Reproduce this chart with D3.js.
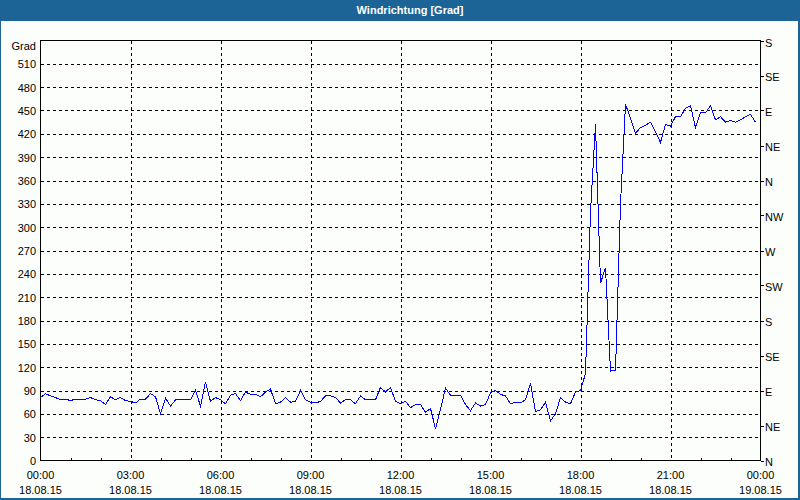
<!DOCTYPE html>
<html><head><meta charset="utf-8">
<script src="https://cdn.jsdelivr.net/npm/d3@7"></script>
<style>
html,body{margin:0;padding:0;background:#fff;}
svg{display:block;}
text{font-family:"Liberation Sans",Arial,sans-serif;font-size:11px;fill:#000;}
</style></head>
<body>
<svg id="chart" width="800" height="500"></svg>
<script>
// ---- data ----
const title = "Windrichtung [Grad]";
const yAxisTitle = "Grad";
const startTime = "2015-08-18T00:00:00";
const endTime = "2015-08-19T00:00:00";
const sampleMinutes = 10;
// wind direction [deg], one value per 10 minutes from 00:00 to 23:50
const values = [
  81, 86, 83, 81, 78, 79, 77, 79, 78, 79,
  81, 78, 77, 72, 82, 78, 81, 77, 76, 74,
  79, 79, 86, 82, 60, 80, 70, 78, 78, 78,
  78, 90, 70, 101, 76, 81, 78, 73, 84, 86,
  77, 88, 85, 85, 82, 88, 92, 73, 75, 81,
  75, 76, 90, 78, 75, 74, 76, 83, 83, 81,
  74, 78, 78, 73, 83, 78, 78, 78, 94, 88,
  94, 76, 73, 76, 68, 72, 72, 62, 67, 41,
  66, 93, 84, 84, 84, 72, 64, 74, 70, 72,
  87, 90, 85, 83, 73, 75, 74, 78, 99, 63,
  65, 75, 51, 60, 81, 75, 73, 88, 90, 112,
  320, 432, 228, 248, 115, 116, 330, 458, 440, 421,
  428, 431, 435, 422, 409, 432, 430, 442, 442, 453,
  456, 428, 447, 447, 456, 438, 442, 435, 437, 435,
  438, 442, 445, 435
];
const yTicks = [0,30,60,90,120,150,180,210,240,270,300,330,360,390,420,450,480,510];
const compassTicks = [0,45,90,135,180,225,270,315,360,405,450,495,540];
const compassLabels = ["N","NE","E","SE","S","SW","W","NW","N","NE","E","SE","S"];
const xTickLabels = [
  ["00:00","18.08.15"],["03:00","18.08.15"],["06:00","18.08.15"],["09:00","18.08.15"],
  ["12:00","18.08.15"],["15:00","18.08.15"],["18:00","18.08.15"],["21:00","18.08.15"],
  ["00:00","19.08.15"]
];

// ---- layout ----
const W = 800, H = 500;
const L = 40.5, R = 760.5, T = 40.5, B = 460.5;
const blue = "#1d6496";
const svg = d3.select("#chart");

const t0 = new Date(startTime), t1 = new Date(endTime);
const times = values.map((v, i) => d3.timeMinute.offset(t0, i * sampleMinutes));
const x = d3.scaleTime().domain([t0, t1]).range([L, R]);
const y = d3.scaleLinear().domain([0, 540]).range([B, T]);

// background
svg.append("rect").attr("width", W).attr("height", H).attr("fill", "#fcfefc");
// title bar
svg.append("rect").attr("x", 0).attr("y", 0).attr("width", W).attr("height", 21).attr("fill", blue);
svg.append("text").attr("x", 410).attr("y", 14)
  .attr("text-anchor", "middle")
  .style("font-weight", "bold").style("fill", "#fff").style("font-size", "11px")
  .text(title);
// window border (left 1px, right/bottom 2px)
svg.append("rect").attr("x", 0).attr("y", 0).attr("width", 1).attr("height", H).attr("fill", blue);
svg.append("rect").attr("x", W - 2).attr("y", 0).attr("width", 2).attr("height", H).attr("fill", blue);
svg.append("rect").attr("x", 0).attr("y", H - 2).attr("width", W).attr("height", 2).attr("fill", blue);

const g = svg.append("g").attr("shape-rendering", "crispEdges");

// horizontal grid
const hTicks = yTicks.filter(d => d > 0);
g.selectAll(".hgrid").data(hTicks).enter().append("line")
  .attr("x1", L).attr("x2", R)
  .attr("y1", d => Math.round(y(d)) + 0.5).attr("y2", d => Math.round(y(d)) + 0.5)
  .attr("stroke", "#000").attr("stroke-dasharray", "3,3");

// vertical grid (every 3 hours)
const majorTimes = d3.timeHour.every(3).range(t0, d3.timeMinute.offset(t1, 1));
g.selectAll(".vgrid").data(majorTimes.slice(1, -1)).enter().append("line")
  .attr("x1", d => Math.round(x(d)) + 0.5).attr("x2", d => Math.round(x(d)) + 0.5)
  .attr("y1", T).attr("y2", B)
  .attr("stroke", "#000").attr("stroke-dasharray", "3,3");

// minor hourly ticks on bottom axis
const hourTimes = d3.timeHour.every(1).range(t0, t1).filter(d => d.getHours() % 3 !== 0);
g.selectAll(".minor").data(hourTimes).enter().append("line")
  .attr("x1", d => Math.round(x(d)) + 0.5).attr("x2", d => Math.round(x(d)) + 0.5)
  .attr("y1", B - 3).attr("y2", B)
  .attr("stroke", "#000");

// right compass ticks
g.selectAll(".rtick").data(compassTicks).enter().append("line")
  .attr("x1", R).attr("x2", R + 3)
  .attr("y1", d => Math.round(y(d)) + 0.5).attr("y2", d => Math.round(y(d)) + 0.5)
  .attr("stroke", "#000");

// frame
g.append("rect").attr("x", L).attr("y", T).attr("width", R - L).attr("height", B - T)
  .attr("fill", "none").attr("stroke", "#000");

// data line
const line = d3.line().x((d, i) => x(times[i])).y(d => y(d));
svg.append("path").datum(values)
  .attr("d", line).attr("fill", "none").attr("stroke", "#0000ff").attr("stroke-width", 1)
  .attr("shape-rendering", "crispEdges");

// left labels
svg.selectAll(".ylab").data(yTicks).enter().append("text")
  .attr("x", 36).attr("y", d => y(d) + 4.5)
  .attr("text-anchor", "end").text(d => d);
svg.append("text").attr("x", 36).attr("y", 50).attr("text-anchor", "end").text(yAxisTitle);

// right labels
svg.selectAll(".rlab").data(compassTicks).enter().append("text")
  .attr("x", 765).attr("y", (d, i) => y(d) + (i === compassTicks.length - 1 ? 6 : 5))
  .text((d, i) => compassLabels[i]);

// bottom labels
const labelG = svg.selectAll(".xlab").data(majorTimes).enter().append("text")
  .attr("text-anchor", "middle");
labelG.append("tspan").attr("x", d => x(d)).attr("y", 478.5).text((d, i) => xTickLabels[i][0]);
labelG.append("tspan").attr("x", d => x(d)).attr("y", 494).text((d, i) => xTickLabels[i][1]);
</script>
</body></html>
